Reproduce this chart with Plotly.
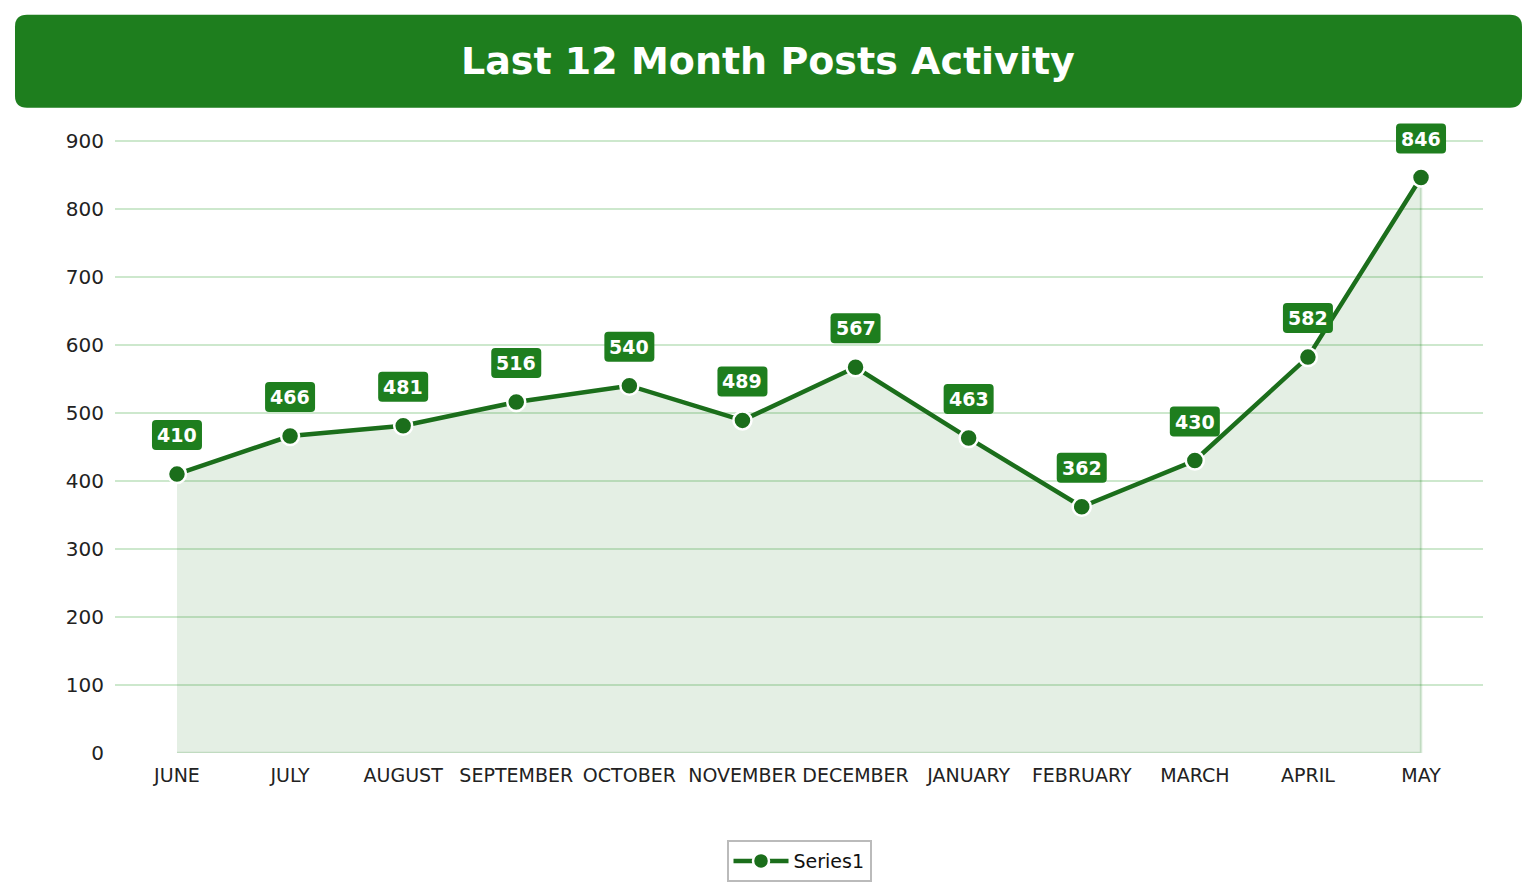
import plotly.graph_objects as go

months = ["JUNE", "JULY", "AUGUST", "SEPTEMBER", "OCTOBER", "NOVEMBER",
          "DECEMBER", "JANUARY", "FEBRUARY", "MARCH", "APRIL", "MAY"]
posts = [410, 466, 481, 516, 540, 489, 567, 463, 362, 430, 582, 846]
y_ticks = [0, 100, 200, 300, 400, 500, 600, 700, 800, 900]

GREEN = "#1e7e1e"
DARK = "#1b6e1b"
OFF = 8  # page body margin
W, H = 1536 - OFF, 894 - OFF
Y_MAX = 960
PX_PER_UNIT = 0.68
ML = 115 - OFF
MR = W - (1483 - OFF)
MB = H - (753 - OFF)
PH = Y_MAX * PX_PER_UNIT
MT = H - MB - PH
PW = W - ML - MR


def px2paper(x, y):
    # x, y in reference page pixels
    return (x - OFF - ML) / PW, (H - MB - (y - OFF)) / PH


def rounded_path(x0, y0, x1, y1, r):
    pts = [
        ("M", x0 + r, y0), ("L", x1 - r, y0), ("Q", x1, y0, x1, y0 + r),
        ("L", x1, y1 - r), ("Q", x1, y1, x1 - r, y1), ("L", x0 + r, y1),
        ("Q", x0, y1, x0, y1 - r), ("L", x0, y0 + r), ("Q", x0, y0, x0 + r, y0),
    ]
    s = ""
    for p in pts:
        cmd = p[0]
        coords = p[1:]
        conv = []
        for i in range(0, len(coords), 2):
            a, b = px2paper(coords[i], coords[i + 1])
            conv.append(f"{a:.5f},{b:.5f}")
        s += cmd + " " + " ".join(conv) + " "
    return s + "Z"


fig = go.Figure()

# filled area polygon
fig.add_trace(go.Scatter(
    x=months + [months[-1], months[0]],
    y=posts + [0, 0],
    fill="toself",
    fillcolor="rgba(30,126,30,0.12)",
    line=dict(color="rgba(30,126,30,0.18)", width=2.5),
    mode="lines",
    hoverinfo="skip",
    showlegend=False,
))

fig.add_trace(go.Scatter(
    x=months, y=posts, name="Series1", mode="lines+markers",
    line=dict(color=DARK, width=4.5),
    marker=dict(size=18, color=DARK, line=dict(color="white", width=2.5)),
))

shapes = []
# top border line at 900
shapes.append(dict(type="line", xref="paper", yref="y", x0=0, x1=1,
                   y0=y_ticks[-1], y1=y_ticks[-1],
                   line=dict(color="#dbe3db", width=1.5), layer="between"))
# title bar
shapes.append(dict(type="path", xref="paper", yref="paper",
                   path=rounded_path(15, 15, 1522, 108, 12),
                   fillcolor=GREEN, line=dict(width=0), layer="above"))

tx, ty = px2paper(768, 61)
annotations = [dict(text="<b>Last 12 Month Posts Activity</b>", xref="paper", yref="paper",
                    x=tx, y=ty, showarrow=False,
                    font=dict(size=38, color="white", family="DejaVu Sans"),
                    xanchor="center", yanchor="middle")]

for i, (m, v) in enumerate(zip(months, posts)):
    shapes.append(dict(
        type="path", xref="x", yref="y", xsizemode="pixel", ysizemode="pixel",
        xanchor=m, yanchor=v,
        path="M -21,24 L 21,24 Q 25,24 25,28 L 25,50 Q 25,54 21,54 L -21,54 "
             "Q -25,54 -25,50 L -25,28 Q -25,24 -21,24 Z",
        fillcolor=GREEN, line=dict(width=0), layer="above"))
    annotations.append(dict(
        x=m, y=v, text=f"<b>{v}</b>", showarrow=False, yshift=39,
        font=dict(size=19, color="white", family="DejaVu Sans"),
        xanchor="center", yanchor="middle"))

fig.update_layout(
    width=W, height=H,
    margin=dict(l=ML, r=MR, t=MT, b=MB, pad=0, autoexpand=False),
    paper_bgcolor="white", plot_bgcolor="white",
    font=dict(family="DejaVu Sans", color="#222222"),
    shapes=shapes, annotations=annotations,
    showlegend=True,
    legend=dict(orientation="h", x=0.5, xanchor="center",
                y=px2paper(0, 840)[1], yanchor="top", itemwidth=55,
                bordercolor="#bbbbbb", borderwidth=2, font=dict(size=19, color="#111111"),
                bgcolor="white"),
    xaxis=dict(type="category", range=[-0.548, 11.548], showgrid=False,
               tickfont=dict(size=19, color="#222222"), ticks="", showline=False,
               zeroline=False, ticklabelstandoff=9),
    yaxis=dict(range=[0, Y_MAX], tickvals=y_ticks, gridcolor="#cde8cd",
               gridwidth=2, zeroline=False, showline=False,
               tickfont=dict(size=20, color="#222222"), ticklabelstandoff=10),
    hovermode=False,
)

fig.write_html("out.html")
